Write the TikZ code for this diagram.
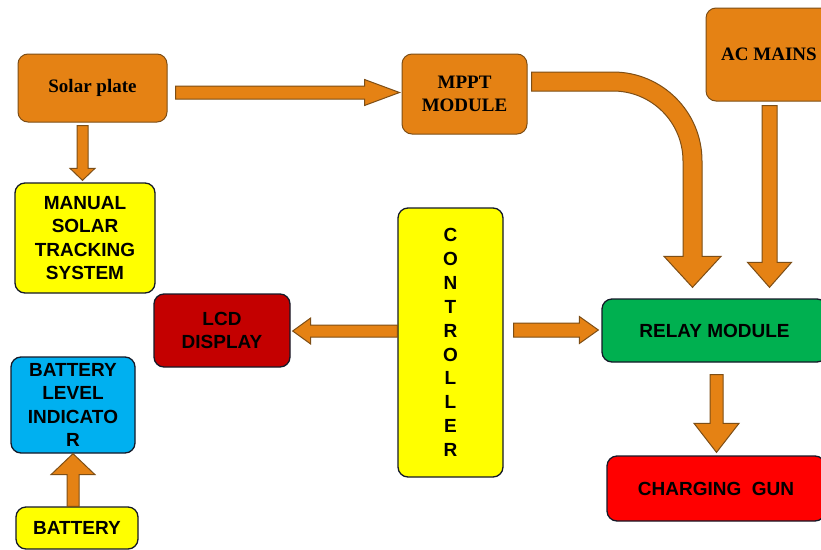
\documentclass[tikz,border=0pt]{standalone}
\usepackage{fontspec}
\setmainfont{Liberation Serif}
\newfontfamily\arialfont{Liberation Sans}
\usetikzlibrary{calc}
\definecolor{orangefill}{RGB}{229,130,20}
\definecolor{orangeline}{RGB}{125,78,22}
\definecolor{boxline}{RGB}{20,25,40}
\definecolor{yellowfill}{RGB}{255,255,0}
\definecolor{greenfill}{RGB}{0,176,80}
\definecolor{redfill}{RGB}{255,0,0}
\definecolor{darkredfill}{RGB}{196,0,0}
\definecolor{bluefill}{RGB}{0,176,240}
\tikzset{
  basebox/.style={rectangle, rounded corners=10pt, inner sep=0pt, align=center, line width=1.3pt},
  orangebox/.style={basebox, fill=orangefill, draw=orangeline, line width=1pt,
     font=\fontsize{19}{23}\selectfont\bfseries},
  sansbox/.style={basebox, draw=boxline, font=\arialfont\fontsize{19}{23.5}\selectfont\bfseries},
  blockarr/.style={fill=orangefill, draw=orangeline, line width=1pt, line join=miter},
}
\newcommand\blockarrow[5]{%
  \coordinate (bA) at (#1);
  \coordinate (bB) at (#2);
  \coordinate (bH) at ($(bB)!#5!(bA)$);
  \filldraw[blockarr] ($(bA)!#3!90:(bB)$) -- ($(bH)!#3!-90:(bA)$) -- ($(bH)!#4!-90:(bA)$)
    -- (bB) -- ($(bH)!#4!90:(bA)$) -- ($(bH)!#3!90:(bA)$) -- ($(bA)!#3!-90:(bB)$) -- cycle;
}
\begin{document}
\begin{tikzpicture}[x=1pt,y=-1pt]
\useasboundingbox (0,0) rectangle (821,549);
\clip (0,0) rectangle (821,549);
\fill[white] (0,0) rectangle (821,549);

% nodes
\node[orangebox, minimum width=149pt, minimum height=68pt] (solar) at (92.5,88) {Solar plate};
\node[orangebox, minimum width=125pt, minimum height=80pt] (mppt) at (464.5,94) {MPPT\\MODULE};
\node[orangebox, minimum width=126pt, minimum height=93pt] (ac) at (769,54.5) {AC MAINS};
\node[sansbox, fill=yellowfill, minimum width=140pt, minimum height=110pt] (manual) at (85,238)
  {MANUAL\\SOLAR\\TRACKING\\SYSTEM};
\node[sansbox, fill=yellowfill, minimum width=105pt, minimum height=269pt,
  font=\arialfont\fontsize{19}{23.9}\selectfont\bfseries] (ctrl) at (450.5,342.5)
  {C\\O\\N\\T\\R\\O\\L\\L\\E\\R};
\node[sansbox, fill=greenfill, minimum width=225pt, minimum height=63pt] (relay) at (714.5,330.5) {RELAY MODULE};
\node[sansbox, fill=redfill, minimum width=218pt, minimum height=65pt] (gun) at (716,488.5) {CHARGING\ \ GUN};
\node[sansbox, fill=darkredfill, minimum width=136pt, minimum height=73pt] (lcd) at (222,330.5) {LCD\\DISPLAY};
\node[sansbox, fill=bluefill, minimum width=124pt, minimum height=96pt] (bli) at (73,405)
  {BATTERY\\LEVEL\\INDICATO\\R};
\node[sansbox, fill=yellowfill, minimum width=122pt, minimum height=42pt] (battery) at (77,528) {BATTERY};

% straight block arrows
\blockarrow{$(solar.south)+(-10,3)$}{$(manual.north)+(-2.5,-2)$}{5.5pt}{12.5pt}{12pt}
\blockarrow{$(solar.east)+(8,4.5)$}{$(mppt.west)+(-2,-1.5)$}{6.5pt}{13pt}{35pt}
\blockarrow{$(ac.south)+(0.5,4)$}{$(relay.north)+(55,-11)$}{7.5pt}{22pt}{25pt}
\blockarrow{$(ctrl.east)+(10,-12.5)$}{$(relay.west)+(-3,-0.5)$}{7pt}{13.5pt}{19pt}
\blockarrow{$(ctrl.west)+(0,-11.5)$}{$(lcd.east)+(2,0.5)$}{6pt}{13pt}{18pt}
\blockarrow{$(relay.south)+(2,12)$}{$(gun.north)+(0.5,-3)$}{6.5pt}{22.5pt}{29pt}
\blockarrow{$(battery.north)+(-4,0)$}{bli.south}{6pt}{22pt}{21pt}

% curved block arrow MPPT -> relay
\coordinate (c0) at ($(mppt.east)+(4,-12.5)$);
\coordinate (c1) at ($(relay.north)+(-22,-11)$);
\coordinate (ctr) at ($(c1 |- c0)+(-79.5,79.5)$);
\filldraw[blockarr] ($(c0)+(0,-9.5)$) -- ($(ctr)+(0,-89)$)
  .. controls ($(ctr)+(49.15,-89)$) and ($(ctr)+(89,-49.15)$) .. ($(ctr)+(89,0)$)
  -- ($(c1)+(9.5,-31)$) -- ($(c1)+(28.5,-31)$) -- (c1) -- ($(c1)+(-28.5,-31)$)
  -- ($(c1)+(-9.5,-31)$) -- ($(ctr)+(70,0)$)
  .. controls ($(ctr)+(70,-38.66)$) and ($(ctr)+(38.66,-70)$) .. ($(ctr)+(0,-70)$)
  -- ($(c0)+(0,9.5)$) -- cycle;
\end{tikzpicture}
\end{document}
